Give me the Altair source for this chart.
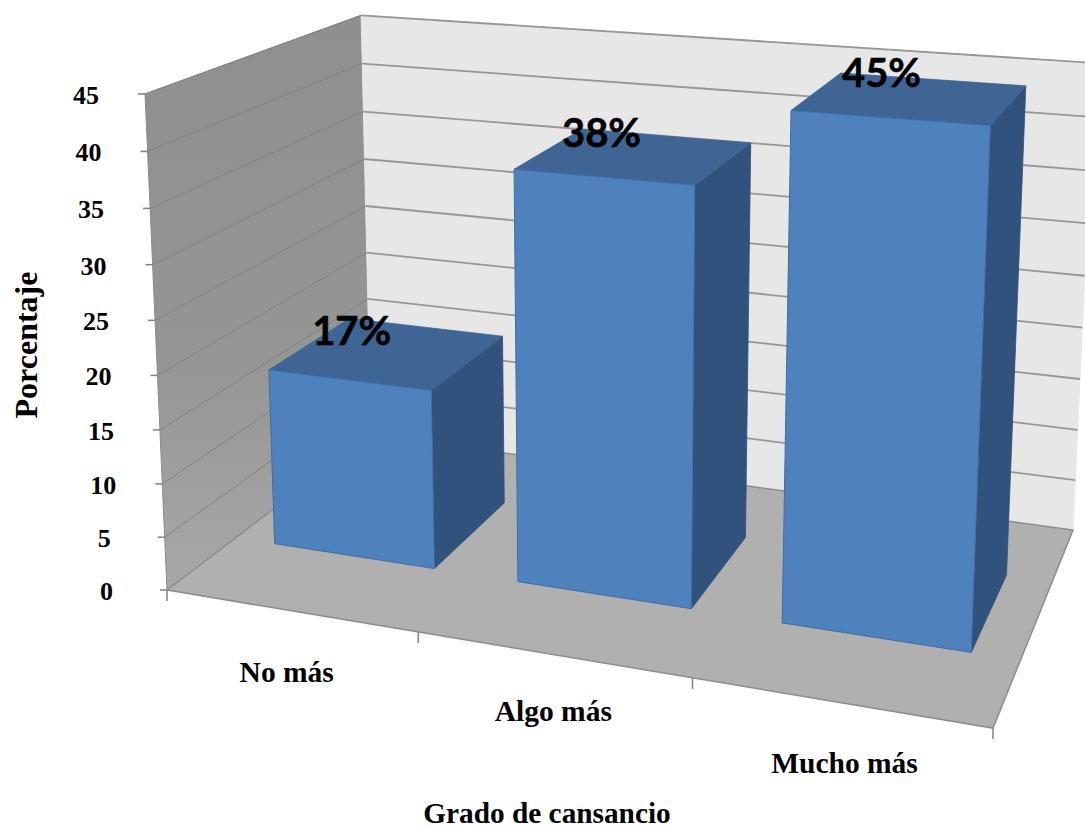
import altair as alt
import pandas as pd

# Chart content
categories = ["No más", "Algo más", "Mucho más"]
values = [17, 38, 45]
value_labels = ["17%", "38%", "45%"]
value_ticks = [0, 5, 10, 15, 20, 25, 30, 35, 40, 45]
x_title = "Grado de cansancio"
y_title = "Porcentaje"

# Size of the 3D box, in data units
N = len(categories)
V_MAX = 45

# Bar footprint inside each category cell (depth runs 0 = front, 1 = back)
BAR_HALF = 0.333
BAR_W0, BAR_W1 = 0.30, 0.70

# Camera: homogeneous projection of (category, depth, value) on the canvas
CAM_X = (701.3, 274.8, -28.8 / 45, 167.0)
CAM_Y = (46.6, -72.0, -500.5 / 45, 590.0)
CAM_D = (-0.1256, 0.1909, -0.0472 / 45, 1.0)


def project(u, w, v):
    s = u / N
    d = CAM_D[0] * s + CAM_D[1] * w + CAM_D[2] * v + CAM_D[3]
    x = (CAM_X[0] * s + CAM_X[1] * w + CAM_X[2] * v + CAM_X[3]) / d
    y = (CAM_Y[0] * s + CAM_Y[1] * w + CAM_Y[2] * v + CAM_Y[3]) / d
    return x, y


def polygons(faces):
    rows = []
    for pid, corners in enumerate(faces):
        for i, corner in enumerate(list(corners) + [corners[0]]):
            x, y = project(*corner)
            rows.append({"x": x, "y": y, "poly": pid, "idx": i})
    return pd.DataFrame(rows)


X = alt.X("x:Q", scale=alt.Scale(domain=[0, 1085], nice=False, zero=False), axis=None)
Y = alt.Y("y:Q", scale=alt.Scale(domain=[830, 0], nice=False, zero=False), axis=None)


def faces_layer(faces, **mark):
    return alt.Chart(polygons(faces)).mark_line(clip=True, **mark).encode(
        x=X, y=Y, detail="poly:N", order="idx:Q"
    )


def segments_layer(segments, color, width):
    rows = []
    for pid, (a, b) in enumerate(segments):
        for i, (px, py) in enumerate((a, b)):
            rows.append({"x": px, "y": py, "poly": pid, "idx": i})
    return alt.Chart(pd.DataFrame(rows)).mark_line(
        clip=True, color=color, strokeWidth=width
    ).encode(x=X, y=Y, detail="poly:N", order="idx:Q")


def text_layer(rows, **mark):
    return alt.Chart(pd.DataFrame(rows)).mark_text(**mark).encode(x=X, y=Y, text="t:N")


wall_gradient = alt.Gradient(
    gradient="linear",
    stops=[
        alt.GradientStop(color="#8f8f8f", offset=0),
        alt.GradientStop(color="#959595", offset=0.6),
        alt.GradientStop(color="#a8a8a8", offset=1),
    ],
    x1=0, x2=0, y1=0, y2=1,
)

# Box: side wall, back wall, floor
side_wall = faces_layer(
    [[(0, 0, 0), (0, 1, 0), (0, 1, V_MAX), (0, 0, V_MAX)]],
    fill=wall_gradient, stroke="#8a8a8a", strokeWidth=1,
)
back_wall = faces_layer(
    [[(0, 1, 0), (N, 1, 0), (N, 1, V_MAX), (0, 1, V_MAX)]],
    fill="#e7e7e7", stroke="#e7e7e7", strokeWidth=1,
)
floor = faces_layer(
    [[(0, 0, 0), (N, 0, 0), (N, 1, 0), (0, 1, 0)]],
    fill="#b0b0b0", stroke="#8c8c8c", strokeWidth=1.5,
)

# Gridlines on both walls
grid_side = segments_layer(
    [(project(0, 0, v), project(0, 1, v)) for v in value_ticks if v > 0], "#808080", 1
)
grid_back = segments_layer(
    [(project(0, 1, v), project(N, 1, v)) for v in value_ticks if v > 0], "#969696", 1.8
)

# Three visible faces of every bar
front_faces, top_faces, side_faces = [], [], []
for i, v in enumerate(values):
    u0, u1 = i + 0.5 - BAR_HALF, i + 0.5 + BAR_HALF
    front_faces.append([(u0, BAR_W0, 0), (u1, BAR_W0, 0), (u1, BAR_W0, v), (u0, BAR_W0, v)])
    top_faces.append([(u0, BAR_W0, v), (u1, BAR_W0, v), (u1, BAR_W1, v), (u0, BAR_W1, v)])
    side_faces.append([(u1, BAR_W0, 0), (u1, BAR_W1, 0), (u1, BAR_W1, v), (u1, BAR_W0, v)])

bar_side = faces_layer(side_faces, fill="#31527c", stroke="#31527c", strokeWidth=0.8)
bar_top = faces_layer(top_faces, fill="#3e6593", stroke="#3e6593", strokeWidth=0.8)
bar_front = faces_layer(front_faces, fill="#4f81bd", stroke="#3d6ea6", strokeWidth=1)

# Axis tick marks
y_ticks = []
for v in value_ticks:
    x, y = project(0, 0, v)
    y_ticks.append(((x - 7, y), (x, y)))
x_ticks = []
for u in range(N + 1):
    x, y = project(u, 0, 0)
    x_ticks.append(((x, y), (x, y + 11)))
tick_marks = segments_layer(y_ticks + x_ticks, "#808080", 1.5)

# Value axis labels sit a fixed distance left of the box edge
tick_rows = []
for v in value_ticks:
    x, y = project(0, 0, v)
    tick_rows.append({"x": x - (46 if v >= 10 else 54), "y": y + 2, "t": str(v)})
tick_text = text_layer(
    tick_rows, font="Liberation Serif", fontWeight="bold", fontSize=26,
    align="right", baseline="middle", color="#000000",
)

# Category labels under the front edge
cat_rows = []
for i, c in enumerate(categories):
    x, y = project(i + 0.5, 0, 0)
    cat_rows.append({"x": x + 4.25 * (i - 1) + 1, "y": y + [62, 58, 62][i], "t": c})
cat_text = text_layer(
    cat_rows, font="Liberation Serif", fontWeight="bold", fontSize=29.5,
    align="center", baseline="middle", color="#000000",
)

# Percent labels straddle the back edge of each bar top
label_rows = []
for i, (v, t) in enumerate(zip(values, value_labels)):
    x, y = project(i + 0.5 - BAR_HALF + 0.01 + 0.07 * i, BAR_W1, v)
    label_rows.append({"x": x, "y": y + [26, 16, 11][i], "t": t})
pct_text = text_layer(
    label_rows, font="Lato", fontWeight="bold", fontSize=40,
    align="center", baseline="alphabetic", color="#000000",
    stroke="#000000", strokeWidth=0.5,
)

x_title_text = text_layer(
    [{"x": 547, "y": 814, "t": x_title}], font="Liberation Serif", fontWeight="bold",
    fontSize=29.3, align="center", baseline="middle", color="#000000",
)
y_title_text = text_layer(
    [{"x": 27, "y": 345, "t": y_title}], font="Liberation Serif", fontWeight="bold",
    fontSize=32, align="center", baseline="middle", angle=270, color="#000000",
)

chart = alt.layer(
    side_wall, back_wall, grid_side, grid_back, floor,
    bar_side, bar_top, bar_front,
    tick_marks, tick_text, cat_text, pct_text, x_title_text, y_title_text,
).properties(
    width=1085, height=830, padding=0, background="#ffffff",
).configure_view(stroke=None)

chart.save("out.html", embed_options={"renderer": "svg", "actions": False})
